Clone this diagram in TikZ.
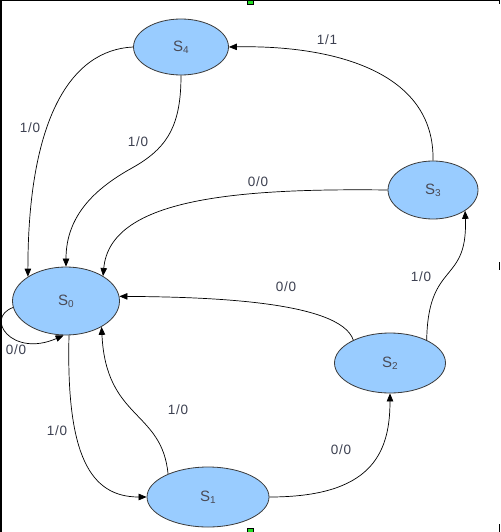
\documentclass[tikz,border=0pt]{standalone}
\usepackage{fontspec}
\setmainfont{Liberation Sans}
\newfontfamily\lblfont[LetterSpace=6]{Liberation Sans}
\usetikzlibrary{shapes.geometric,arrows.meta}
\definecolor{stfill}{HTML}{99CCFF}
\definecolor{stedge}{HTML}{3A3A3A}
\definecolor{sttext}{HTML}{4A4A55}
\definecolor{lbltext}{HTML}{3C4050}
\definecolor{handleg}{HTML}{22DD22}
\newcommand{\stname}[1]{S\raisebox{-0.3ex}{\fontsize{10}{11}\selectfont #1}}
\tikzset{
  state/.style={ellipse, draw=stedge, line width=0.8pt, fill=stfill, inner sep=0pt,
    text=sttext, font=\fontsize{15}{17}\selectfont},
  trans/.style={draw=black, line width=0.7pt, -{Triangle[length=8pt,width=6.5pt]}},
  lbl/.style={text=lbltext, font=\lblfont\fontsize{13.5}{15}\selectfont, inner sep=1pt}
}
\begin{document}
\begin{tikzpicture}[x=1pt,y=-1pt]
\useasboundingbox (0,0) rectangle (500,532);
% frame remnants
\draw[line width=1.5pt] (0,0.75) -- (500,0.75);
\draw[line width=1.5pt] (0.75,0) -- (0.75,532);
\draw[line width=1pt] (499,0) -- (499,4);
\draw[line width=1pt] (499,262) -- (499,270);
\draw[line width=1pt] (499,524) -- (499,532);
\fill[handleg, draw=black, line width=0.5pt] (247,0) rectangle (253,4);
\fill[handleg, draw=black, line width=0.5pt] (247,528) rectangle (253,532);
% states
\node[state, minimum width=95pt, minimum height=56pt] (s4) at (181,47) {\stname{4}};
\node[state, minimum width=90pt, minimum height=58pt] (s3) at (433,190) {\stname{3}};
\node[state, minimum width=107pt, minimum height=68pt] (s0) at (66,301) {\stname{0}};
\node[state, minimum width=111pt, minimum height=60pt] (s2) at (390,363) {\stname{2}};
\node[state, minimum width=122pt, minimum height=60pt] (s1) at (208,497) {\stname{1}};
% transitions
\draw[trans] (s3.north) .. controls (435,70) and (330,45) .. (s4.east);
\draw[trans] (s4.west) .. controls (70,50) and (28,120) .. (s0.north west);
\draw[trans] (s4.south) .. controls (181,125) and (168,148) .. (132,168)
   .. controls (96,188) and (66,215) .. (s0.north);
\draw[trans] (s3.west) .. controls (230,188) and (110,200) .. (s0.34);
\draw[trans] (s2.148) .. controls (340,300) and (200,297) .. (s0.5);
\draw[trans] (s2.32) .. controls (428,260) and (468,285) .. (s3.-33);
\draw[trans] (s0.187) .. controls (-16,318) and (12,358) .. (s0.266);
\draw[trans] (s0.275) .. controls (66,455) and (90,497) .. (s1.west);
\draw[trans] (s1.150) .. controls (162,410) and (106,420) .. (s0.-36);
\draw[trans] (s1.east) .. controls (370,497) and (390,455) .. (s2.south);
% labels
\node[lbl] (l1) at (327,40) {1/1};
\node[lbl] (l2) at (30,128) {1/0};
\node[lbl] (l3) at (138,142) {1/0};
\node[lbl] (l4) at (258,182) {0/0};
\node[lbl] (l5) at (286,287) {0/0};
\node[lbl] (l6) at (421,277) {1/0};
\node[lbl] (l7) at (16,350) {0/0};
\node[lbl] (l8) at (57,431) {1/0};
\node[lbl] (l9) at (178,410) {1/0};
\node[lbl] (l10) at (341,450) {0/0};
\end{tikzpicture}
\end{document}
